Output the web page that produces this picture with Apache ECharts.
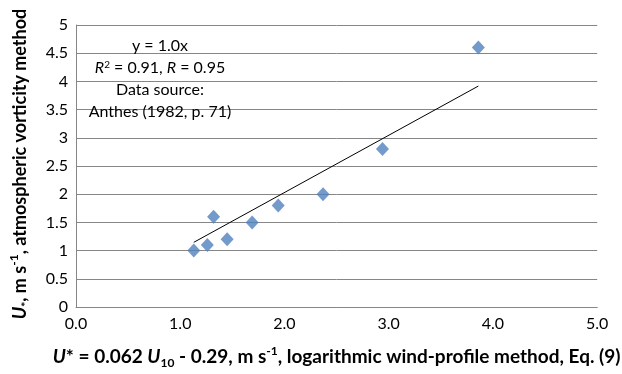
<!DOCTYPE html>
<html>
<head>
<meta charset="utf-8">
<script src="https://cdn.jsdelivr.net/npm/echarts@6/dist/echarts.min.js"></script>
<style>html,body{margin:0;padding:0;background:#fff}#c{width:622px;height:374px}</style>
</head>
<body>
<div id="c"></div>
<script>
// Data
var xValues = [1.13, 1.26, 1.32, 1.45, 1.69, 1.94, 2.37, 2.94, 3.86];
var yValues = [1.0, 1.1, 1.6, 1.2, 1.5, 1.8, 2.0, 2.8, 4.6];
var xTicks = [0, 1, 2, 3, 4, 5];
var yTicks = [0, 0.5, 1, 1.5, 2, 2.5, 3, 3.5, 4, 4.5, 5];

var points = xValues.map(function (x, i) { return [x, yValues[i]]; });

// Linear trend through the origin (least squares)
var sxy = 0, sxx = 0;
for (var i = 0; i < xValues.length; i++) { sxy += xValues[i] * yValues[i]; sxx += xValues[i] * xValues[i]; }
var slope = sxy / sxx;
var xMin = Math.min.apply(null, xValues), xMax = Math.max.apply(null, xValues);
var trend = [[xMin, slope * xMin], [xMax, slope * xMax]];

var FONT = 'Lato';
function titleRich(size) {
  return {
    b: { fontFamily: FONT, fontSize: size, fontWeight: 'bold', color: '#000', lineHeight: 24 },
    i: { fontFamily: FONT, fontSize: size, fontWeight: 'bold', fontStyle: 'italic', color: '#000', lineHeight: 24 },
    sub: { fontFamily: FONT, fontSize: 12, fontWeight: 'bold', color: '#000', lineHeight: 24, verticalAlign: 'bottom' },
    sup: { fontFamily: FONT, fontSize: 12, fontWeight: 'bold', color: '#000', lineHeight: 24, verticalAlign: 'top' }
  };
}
var chart = echarts.init(document.getElementById('c'), null, { renderer: 'canvas' });
chart.setOption({
  animation: false,
  backgroundColor: '#fff',
  grid: { left: 73, right: 24, top: 25, bottom: 62 },
  title: {
    left: 155, top: 30, textAlign: 'center',
    text: '{n|y = 1.0x}\n{i|R}{sup|2}{n| = 0.91, }{i|R}{n| = 0.95}\n{n|Data source:}\n{n|Anthes (1982, p. 71)}',
    textStyle: {
      fontWeight: 'normal',
      rich: {
        n: { fontFamily: FONT, fontSize: 16, fontWeight: 'normal', color: '#000', lineHeight: 22 },
        i: { fontFamily: FONT, fontSize: 16, fontWeight: 'normal', fontStyle: 'italic', color: '#000', lineHeight: 22 },
        sup: { fontFamily: FONT, fontSize: 10, fontWeight: 'normal', color: '#000', lineHeight: 22, verticalAlign: 'top', padding: [3, 0, 0, 0] }
      }
    }
  },
  xAxis: {
    type: 'value', min: xTicks[0], max: xTicks[xTicks.length - 1], interval: 1,
    axisLine: { show: true, lineStyle: { color: '#868686', width: 1 } },
    axisTick: { show: false },
    splitLine: { show: false },
    axisLabel: { fontFamily: FONT, fontSize: 16, color: '#000', margin: 9, formatter: function (v) { return v.toFixed(1); } },
    name: '{i|U}{b|* = 0.062 }{i|U}{sub|10}{b| - 0.29, m s}{sup|-1}{b|, logarithmic wind-profile method, Eq. (9)}',
    nameLocation: 'middle', nameGap: 38,
    nameTextStyle: { rich: titleRich(19) }
  },
  yAxis: {
    type: 'value', min: yTicks[0], max: yTicks[yTicks.length - 1], interval: 0.5,
    axisLine: { show: true, lineStyle: { color: '#868686', width: 1 } },
    axisTick: { show: false },
    splitLine: { show: true, lineStyle: { color: '#868686', width: 1 } },
    axisLabel: { fontFamily: FONT, fontSize: 16, color: '#000', margin: 8 },
    name: '{i|U}{sub|*}{b|, m s}{sup|-1}{b|, atmospheric vorticity method}',
    nameLocation: 'middle', nameGap: 44, nameRotate: 90,
    nameTextStyle: { padding: [0, 0, 0, 4], rich: titleRich(18) }
  },
  series: [
    {
      type: 'line', data: trend, symbol: 'none', silent: true,
      lineStyle: { color: '#000', width: 1 }, z: 2
    },
    {
      type: 'scatter', data: points, symbol: 'diamond', symbolSize: [13, 14],
      itemStyle: { color: '#4F81BD' }, z: 3
    }
  ]
});
</script>
</body>
</html>
